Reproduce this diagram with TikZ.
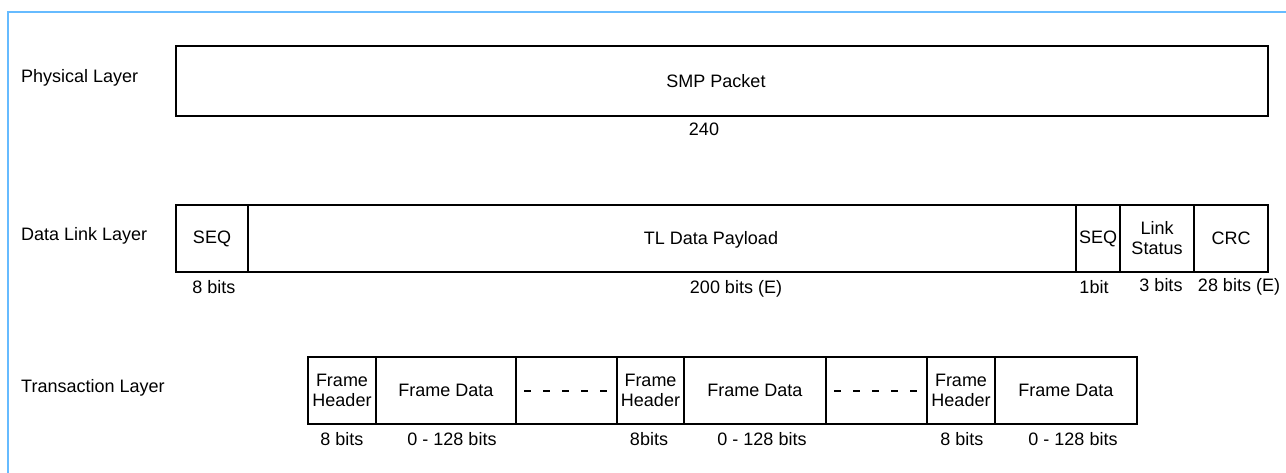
\documentclass[tikz,border=0pt]{standalone}
\usepackage{fontspec}
\setmainfont{Liberation Sans}
\definecolor{frameblue}{HTML}{66BBFF}
\tikzset{
  field/.style={draw, line width=2.5pt, inner sep=0pt, outer sep=0pt, anchor=north west, align=center, font=\fontsize{18}{20}\selectfont},
  rowfield/.style={field, minimum height=67pt},
  bits/.style={inner sep=0pt, anchor=base, font=\fontsize{18}{20}\selectfont},
  layer/.style={inner sep=0pt, anchor=base west, font=\fontsize{18}{20}\selectfont},
  gapline/.style={line width=2pt, dash pattern=on 7pt off 12pt, dash phase=11pt}
}
\begin{document}
\begin{tikzpicture}[x=1pt,y=-1pt]
  \useasboundingbox (0,0) rectangle (1286,472);
  % Outer frame
  \draw[frameblue, line width=1.5pt] (8,12) rectangle (1300,490);

  % Physical layer
  \node[layer] (physName) at (21,82) {Physical Layer};
  \node[field, minimum width=1092pt, minimum height=70pt] (smp) at (176,46) {};
  \node[bits] (smpText) at (716,87) {SMP Packet};
  \node[bits] (smpBits) at (704,135) {240};

  % Data link layer
  \node[layer] (linkName) at (21,240) {Data Link Layer};
  \node[rowfield, minimum width=72pt] (seqA) at (176,205) {SEQ};
  \node[rowfield, minimum width=828pt] (payload) at (248,205) {};
  \node[bits] (payloadText) at (711,244) {TL Data Payload};
  \node[rowfield, minimum width=44pt] (seqB) at (1076,205) {SEQ};
  \node[rowfield, minimum width=74pt] (status) at (1120,205) {Link\\Status};
  \node[rowfield, minimum width=74pt] (crc) at (1194,205) {CRC};
  \node[bits] (seqABits) at (214,293) {8 bits};
  \node[bits] (payloadBits) at (736,293) {200 bits (E)};
  \node[bits] (seqBBits) at (1094,293) {1bit};
  \node[bits] (statusBits) at (1161,291) {3 bits};
  \node[bits] (crcBits) at (1239,291) {28 bits (E)};

  % Transaction layer
  \node[layer] (transName) at (21,392) {Transaction Layer};
  \node[rowfield, minimum width=68pt] (headA) at (308,357) {Frame\\Header};
  \node[rowfield, minimum width=140pt] (dataA) at (376,357) {Frame Data};
  \node[rowfield, minimum width=101pt] (gapA) at (516,357) {};
  \node[rowfield, minimum width=67pt] (headB) at (617,357) {Frame\\Header};
  \node[rowfield, minimum width=142pt] (dataB) at (684,357) {Frame Data};
  \node[rowfield, minimum width=101pt] (gapB) at (826,357) {};
  \node[rowfield, minimum width=68pt] (headC) at (927,357) {Frame\\Header};
  \node[rowfield, minimum width=142pt] (dataC) at (995,357) {Frame Data};
  \draw[gapline] (gapA.west) -- (gapA.east);
  \draw[gapline] (gapB.west) -- (gapB.east);
  \node[bits] (headABits) at (342,445) {8 bits};
  \node[bits] (dataABits) at (452,445) {0 - 128 bits};
  \node[bits] (headBBits) at (649,445) {8bits};
  \node[bits] (dataBBits) at (762,445) {0 - 128 bits};
  \node[bits] (headCBits) at (962,445) {8 bits};
  \node[bits] (dataCBits) at (1073,445) {0 - 128 bits};
\end{tikzpicture}
\end{document}
